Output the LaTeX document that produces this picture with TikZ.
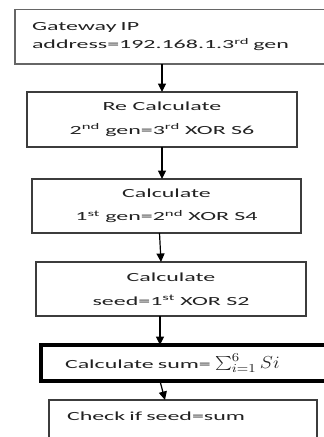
\RequirePackage{fix-cm}
\documentclass[tikz,border=0pt]{standalone}
\usepackage{fontspec}
\usepackage{graphicx}
\usetikzlibrary{arrows.meta}
\newfontfamily\boxfont[FakeStretch=1.93]{Carlito}
\definecolor{inkcol}{HTML}{222222}
\definecolor{edgecol}{HTML}{3C3C3C}
\begin{document}
\begin{tikzpicture}[x=1pt,y=-1pt,
  stepbox/.style={draw=edgecol,line width=1.3pt,rectangle,outer sep=0pt,
    anchor=north west,text=inkcol,inner sep=0pt,
    font=\boxfont\fontsize{12.4}{23.5}\selectfont,align=center},
  flow/.style={draw=black,line width=1.2pt,
    -{Triangle[width=8pt,length=8.5pt]}}]
\clip (0,0) rectangle (324,437);
\fill[white] (0,0) rectangle (324,437);

% start box, open past the right edge
\node[stepbox,draw=gray!80!black,minimum height=54.5pt,inner xsep=17pt,
  text width=286pt,align=left,font=\boxfont\fontsize{12.4}{18.5}\selectfont]
  (gw) at (15,9.5) {Gateway IP\\address=192.168.1.3\textsuperscript{rd} gen};

\node[stepbox,minimum width=270pt,minimum height=55pt] (b2) at (27,92)
  {Re Calculate\\2\textsuperscript{nd} gen=3\textsuperscript{rd} XOR S6};

\node[stepbox,minimum width=269pt,minimum height=54pt] (b3) at (32,179)
  {Calculate\\1\textsuperscript{st} gen=2\textsuperscript{nd} XOR S4};

\node[stepbox,minimum width=270pt,minimum height=54pt] (b4) at (36,262)
  {Calculate\\seed=1\textsuperscript{st} XOR S2};

% summation step with heavy border
\node[stepbox,draw=black,line width=3.5pt,minimum height=36pt,
  inner xsep=24pt,text width=252pt,align=left] (b5) at (41,345)
  {Calculate sum= \scalebox{1.6}[1.4]{$\sum_{i=1}^{6} Si$}};

\node[stepbox,draw=edgecol,inner xsep=18pt,text width=232pt,align=left,
  text height=20pt,text depth=30pt] (b6) at (49,400)
  {Check if seed=sum};

% connectors
\draw[flow] (b2.north |- gw.south) -- (b2.north);
\draw[flow] (b2.south) -- (b2.south |- b3.north);
\draw[flow] ([xshift=-7pt]b3.south) -- ([xshift=-10pt]b4.north);
\draw[flow] ([xshift=-11pt]b4.south) -- ([xshift=-11pt]b4.south |- b5.north);
\draw[flow] ([xshift=-31pt]b5.south) -- ([xshift=-18pt]b6.north);
\end{tikzpicture}
\end{document}
